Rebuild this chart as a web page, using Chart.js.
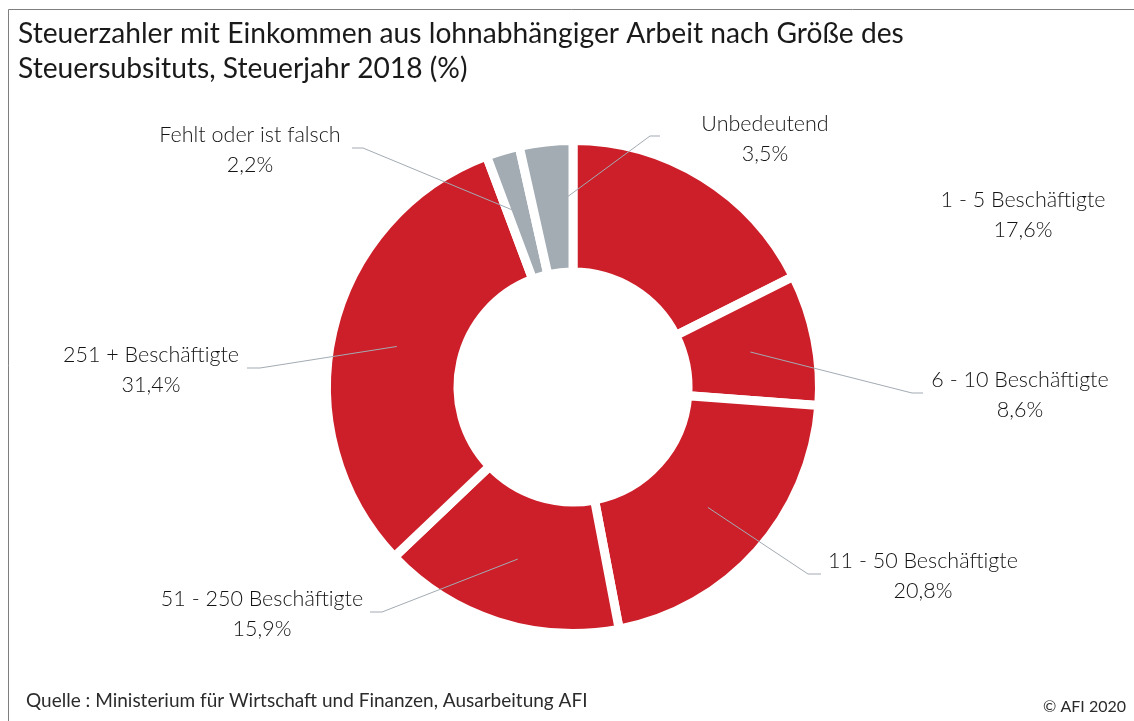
<!DOCTYPE html>
<html>
<head>
<meta charset="utf-8">
<script src="https://cdn.jsdelivr.net/npm/chart.js@4.4.1/dist/chart.umd.min.js"></script>
<style>
  body { margin: 0; background: #fff; }
  canvas { display: block; }
</style>
</head>
<body>
<canvas id="pieChart" width="1134" height="721"></canvas>
<script>
// data
var categories = ['1 - 5 Beschäftigte', '6 - 10 Beschäftigte', '11 - 50 Beschäftigte',
  '51 - 250 Beschäftigte', '251 + Beschäftigte', 'Fehlt oder ist falsch', 'Unbedeutend'];
var shares = [17.6, 8.6, 20.8, 15.9, 31.4, 2.2, 3.5];
var sliceColors = ['#cd1f2a', '#cd1f2a', '#cd1f2a', '#cd1f2a', '#cd1f2a', '#a3abb3', '#a3abb3'];

var titleLines = ['Steuerzahler mit Einkommen aus lohnabhängiger Arbeit nach Größe des',
  'Steuersubsituts, Steuerjahr 2018 (%)'];
var sourceText = 'Quelle : Ministerium für Wirtschaft und Finanzen, Ausarbeitung AFI';
var copyText = '© AFI 2020';

// where each label sits (text centre x, first baseline y) and its leader line bend
var labelLayout = [
  { x: 1023, y: 207, line: null },
  { x: 1020, y: 387, line: [[912, 393], [923, 393]] },
  { x: 923, y: 568, line: [[808, 574], [821, 574]] },
  { x: 262, y: 606, line: [[382, 612], [370, 612]] },
  { x: 151, y: 362, line: [[260, 368], [247, 368]] },
  { x: 250, y: 142, line: [[363, 148], [352, 148]] },
  { x: 765, y: 131, line: [[650, 136], [660, 136]] }
];

function fmt(v) {
  return v.toFixed(1).replace('.', ',') + '%';
}

var decorations = {
  id: 'decorations',
  beforeDraw: function(chart) {
    var ctx = chart.ctx;
    ctx.save();
    ctx.fillStyle = '#fff';
    ctx.fillRect(0, 0, chart.width, chart.height);
    // frame
    ctx.strokeStyle = '#7f7f7f';
    ctx.lineWidth = 1;
    ctx.beginPath();
    ctx.moveTo(8.5, chart.height);
    ctx.lineTo(8.5, 9.5);
    ctx.lineTo(chart.width, 9.5);
    ctx.stroke();
    ctx.restore();
  },
  afterDraw: function(chart) {
    var ctx = chart.ctx;
    var meta = chart.getDatasetMeta(0);
    ctx.save();

    // title
    ctx.fillStyle = '#1a1a1a';
    ctx.font = '400 28.2px Lato';
    ctx.textAlign = 'left';
    ctx.textBaseline = 'alphabetic';
    titleLines.forEach(function(t, i) {
      ctx.fillText(t, 18, 43 + i * 35);
    });

    // leader lines
    ctx.strokeStyle = '#a3abb3';
    ctx.lineWidth = 1;
    meta.data.forEach(function(arc, i) {
      var lay = labelLayout[i];
      if (!lay.line) return;
      var p = arc.tooltipPosition();
      ctx.beginPath();
      ctx.moveTo(p.x, p.y);
      lay.line.forEach(function(pt) { ctx.lineTo(pt[0], pt[1]); });
      ctx.stroke();
    });

    // labels
    ctx.fillStyle = '#141414';
    ctx.font = '300 21.5px Lato';
    ctx.textAlign = 'center';
    categories.forEach(function(c, i) {
      var lay = labelLayout[i];
      ctx.fillText(c, lay.x, lay.y);
      ctx.fillText(fmt(shares[i]), lay.x, lay.y + 30);
    });

    // footer
    ctx.fillStyle = '#2b2b2b';
    ctx.font = '400 19px Lato';
    ctx.textAlign = 'left';
    ctx.fillText(sourceText, 26, 707);
    ctx.font = '400 16px Lato';
    ctx.textAlign = 'right';
    ctx.fillText(copyText, 1126, 712);
    ctx.restore();
  }
};

var ctx = document.getElementById('pieChart').getContext('2d');
new Chart(ctx, {
  type: 'doughnut',
  data: {
    labels: categories,
    datasets: [{
      data: shares,
      backgroundColor: sliceColors,
      borderColor: '#fff',
      borderWidth: 9,
      borderJoinStyle: 'miter',
      hoverOffset: 0
    }]
  },
  options: {
    responsive: false,
    animation: false,
    radius: 246.5,
    cutout: 122.5,
    layout: { padding: { left: 100, right: 88, top: 120, bottom: 67 } },
    plugins: {
      legend: { display: false },
      tooltip: { enabled: false },
      title: { display: false }
    }
  },
  plugins: [decorations]
});
</script>
</body>
</html>
